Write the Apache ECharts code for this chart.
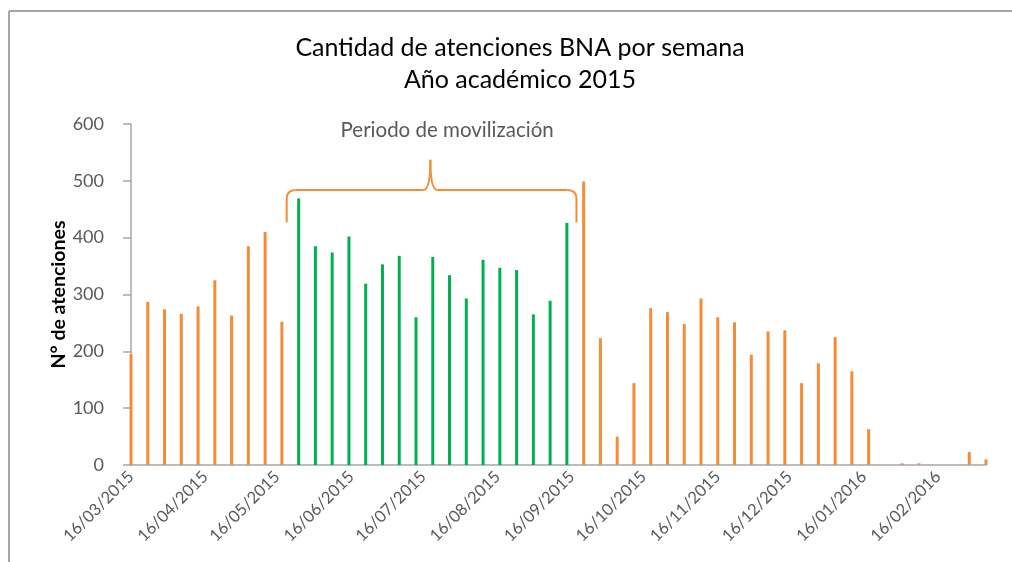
<!DOCTYPE html>
<html><head><meta charset="utf-8">
<script src="https://cdn.jsdelivr.net/npm/echarts@6/dist/echarts.min.js"></script>
<style>html,body{margin:0;padding:0;background:#fff}#c{width:1012px;height:562px}</style>
</head><body><div id="c"></div>
<script>
// ---- data ----
const weekDates = [
 '2015-03-16','2015-03-23','2015-03-30','2015-04-06','2015-04-13','2015-04-20','2015-04-27',
 '2015-05-04','2015-05-11','2015-05-18','2015-05-25','2015-06-01','2015-06-08','2015-06-15',
 '2015-06-22','2015-06-29','2015-07-06','2015-07-13','2015-07-20','2015-07-27','2015-08-03',
 '2015-08-10','2015-08-17','2015-08-24','2015-08-31','2015-09-07','2015-09-14','2015-09-21',
 '2015-09-28','2015-10-05','2015-10-12','2015-10-19','2015-10-26','2015-11-02','2015-11-09',
 '2015-11-16','2015-11-23','2015-11-30','2015-12-07','2015-12-14','2015-12-21','2015-12-28',
 '2016-01-04','2016-01-11','2016-01-18','2016-01-25','2016-02-01','2016-02-08','2016-02-15',
 '2016-02-22','2016-02-29','2016-03-07'];
const weeklyValues = [195,287,274,266,279,325,263,385,410,252,
 469,385,374,402,319,353,368,260,366,334,293,361,347,343,265,289,426,
 499,223,50,144,276,269,248,293,260,251,194,235,237,144,179,225,165,63,0,3,3,0,0,23,10];
const mobilizationStart = '2015-05-25';
const mobilizationEnd = '2015-09-14';
const xTickLabels = ['2015-03-16','2015-04-16','2015-05-16','2015-06-16','2015-07-16','2015-08-16',
 '2015-09-16','2015-10-16','2015-11-16','2015-12-16','2016-01-16','2016-02-16'];
const yTickValues = [0,100,200,300,400,500,600];
const titleLines = ['Cantidad de atenciones BNA por semana','Año académico 2015'];
const yAxisTitle = 'N° de atenciones';
const annotationText = 'Periodo de movilización';
// brace annotation in data space
const braceFrom = '2015-05-20', braceTo = '2015-09-18', braceMid = '2015-07-19';
const braceLevel = 484, braceTipLevel = 537, braceEndLevel = 427;
const annotationAt = ['2015-07-26', 588];

const ORANGE = '#F28C36', GREEN = '#00B050', GRAY = '#595959', AXIS = '#A6A6A6';
const FONT = 'Lato';
const ts = s => { const [y,m,d] = s.split('-').map(Number); return Date.UTC(y, m-1, d); };
const two = n => (n < 10 ? '0' : '') + n;

const mS = ts(mobilizationStart), mE = ts(mobilizationEnd);
const barData = weekDates.map((d, i) => {
  const t = ts(d);
  return { value: [t, weeklyValues[i]], itemStyle: { color: (t >= mS && t <= mE) ? GREEN : ORANGE } };
});

const chart = echarts.init(document.getElementById('c'), null, { renderer: 'canvas' });
chart.setOption({
  animation: false,
  backgroundColor: '#fff',
  grid: { left: 131, right: 26, top: 124, bottom: 97, containLabel: false },
  xAxis: {
    type: 'value',
    min: ts(weekDates[0]), max: ts(weekDates[weekDates.length - 1]),
    axisLine: { show: true, onZero: false, lineStyle: { color: AXIS, width: 1.5 } },
    axisTick: { show: false },
    splitLine: { show: false },
    axisLabel: {
      customValues: xTickLabels.map(ts),
      rotate: 45, margin: 9, color: GRAY, fontFamily: FONT, fontSize: 16.5,
      hideOverlap: false, showMinLabel: true, showMaxLabel: true,
      formatter: v => { const dt = new Date(v); return two(dt.getUTCDate()) + '/' + two(dt.getUTCMonth() + 1) + '/' + dt.getUTCFullYear(); }
    }
  },
  yAxis: {
    type: 'value', min: yTickValues[0], max: yTickValues[yTickValues.length - 1], interval: 100,
    name: yAxisTitle, nameLocation: 'middle', nameGap: 62, nameRotate: 90, nameMoveOverlap: false,
    nameTextStyle: { color: '#000', fontFamily: FONT, fontSize: 19.5, fontWeight: 'bold' },
    axisLine: { show: true, lineStyle: { color: AXIS, width: 1.5 } },
    axisTick: { show: true, length: 8, lineStyle: { color: AXIS, width: 1.5 } },
    splitLine: { show: false },
    axisLabel: { margin: 27, color: GRAY, fontFamily: FONT, fontSize: 18 }
  },
  series: [{
    type: 'bar', name: 'Atenciones', data: barData, barWidth: 3, clip: false
  }]
});

// brace + annotation, positioned through the axes
const p = (d, v) => chart.convertToPixel({ gridIndex: 0 }, [ts(d), v]);
const [L, yH] = p(braceFrom, braceLevel);
const [R, yE] = p(braceTo, braceEndLevel);
const [P, yT] = p(braceMid, braceTipLevel);
const r = 9;
const bStyle = { stroke: ORANGE, lineWidth: 2, fill: null };
const seg = (x1, y1, x2, y2) => ({ type: 'line', shape: { x1, y1, x2, y2 }, style: bStyle });
const curve = (x1, y1, x2, y2, cpx1, cpy1, cpx2, cpy2) => ({ type: 'bezierCurve',
  shape: cpx2 === undefined ? { x1, y1, x2, y2, cpx1, cpy1 } : { x1, y1, x2, y2, cpx1, cpy1, cpx2, cpy2 }, style: bStyle });
const brace = [
  seg(L, yE, L, yH + r),
  curve(L, yH + r, L + r, yH, L, yH),
  seg(L + r, yH, P - 7, yH),
  curve(P - 7, yH, P, yT, P - 2, yH, P, yH - 10),
  curve(P, yT, P + 7, yH, P, yH - 10, P + 2, yH),
  seg(P + 7, yH, R - r, yH),
  curve(R - r, yH, R, yH + r, R, yH),
  seg(R, yH + r, R, yE)
];
const [tx, ty] = p(annotationAt[0], annotationAt[1]);
chart.setOption({
  graphic: [
    { type: 'line', shape: { x1: 9, y1: 11, x2: 1012, y2: 11 }, style: { stroke: AXIS, lineWidth: 2 } },
    { type: 'line', shape: { x1: 9, y1: 11, x2: 9, y2: 562 }, style: { stroke: AXIS, lineWidth: 2 } },
    { type: 'text', x: 520, y: 32, style: { text: titleLines.join('\n'), textAlign: 'center', textVerticalAlign: 'top',
      font: '25px ' + FONT, lineHeight: 32, fill: '#000' } },
    ...brace,
    { type: 'text', x: tx, y: ty, style: { text: annotationText, textAlign: 'center', textVerticalAlign: 'middle',
      font: '20.5px ' + FONT, fill: GRAY } }
  ]
});
</script></body></html>
